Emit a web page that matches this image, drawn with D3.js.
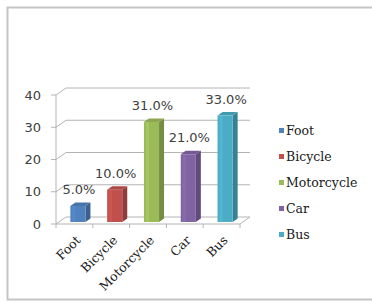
<!DOCTYPE html>
<html lang="en">
  <head>
    <meta charset="UTF-8">
    <title>Mode of transport</title>
    <style>
      html,body{
        background-color: #fff;
        margin: 0;
        padding: 0;
      }
      svg{ display: block; }
    </style>
  </head>
  <body>
    <div id="chart"></div>
    <script src="https://cdn.jsdelivr.net/npm/d3@7"></script>
    <script>
      // datos
      var categories = ["Foot", "Bicycle", "Motorcycle", "Car", "Bus"];
      var values = [5, 10, 31, 21, 33];
      var valueLabels = ["5.0%", "10.0%", "31.0%", "21.0%", "33.0%"];
      var yTicks = [0, 10, 20, 30, 40];
      var colors = ["#4F81BD", "#C0504D", "#9BBB59", "#8064A2", "#4BACC6"];

      var W = 372, H = 305;
      var svg = d3.select("#chart").append("svg")
        .attr("width", W).attr("height", H);

      // marco exterior
      svg.append("rect")
        .attr("x", 7.5).attr("y", 7.5)
        .attr("width", 380).attr("height", 292)
        .attr("fill", "#fff").attr("stroke", "#c4c4c4").attr("stroke-width", 2);

      // profundidad 3D
      var dx = 10, dy = -7;
      var x = d3.scaleBand().domain(categories).range([56, 240]);
      var y = d3.scaleLinear().domain([0, 40]).range([224, 95]);

      var grid = svg.append("g")
        .attr("stroke", "#b4b4b4").attr("stroke-width", 1).attr("fill", "none");

      // lineas de la pared y del suelo
      yTicks.forEach(function(t){
        var yy = y(t);
        grid.append("path")
          .attr("d", "M" + x.range()[0] + "," + yy + "L" + (x.range()[0] + dx) + "," + (yy + dy) +
            "L" + (x.range()[1] + dx) + "," + (yy + dy));
        grid.append("line")
          .attr("x1", x.range()[0] - 5).attr("x2", x.range()[0])
          .attr("y1", yy).attr("y2", yy);
      });
      grid.append("line")
        .attr("x1", x.range()[0]).attr("x2", x.range()[0])
        .attr("y1", y(0)).attr("y2", y(40));
      grid.append("path")
        .attr("d", "M" + x.range()[0] + "," + y(0) + "L" + x.range()[1] + "," + y(0) +
          "L" + (x.range()[1] + dx) + "," + (y(0) + dy));
      // marcas del eje x
      categories.concat([null]).forEach(function(c, i){
        var xx = i < categories.length ? x(c) : x.range()[1];
        grid.append("line")
          .attr("x1", xx).attr("x2", xx)
          .attr("y1", y(0)).attr("y2", y(0) + 4);
      });

      // etiquetas eje y
      svg.append("g").selectAll("text").data(yTicks).join("text")
        .attr("x", 41).attr("y", function(d){ return y(d); })
        .attr("dy", "0.36em")
        .attr("text-anchor", "end")
        .attr("font-family", "DejaVu Sans").attr("font-size", 13)
        .attr("fill", "#404040")
        .text(function(d){ return d; });

      // barras 3D
      var bw = x.bandwidth() * 0.41;
      var fx = 3.5, fy = -2;     // desplazamiento de la cara frontal
      var sx = 5, sy = -3.5;      // profundidad de la barra
      var bars = svg.append("g");
      categories.forEach(function(c, i){
        var x0 = x(c) + (x.bandwidth() - bw) / 2 + fx;
        var x1 = x0 + bw;
        var yb = y(0) + fy;
        var yt = y(values[i]) + fy;
        var col = d3.color(colors[i]);
        var g = bars.append("g");
        g.append("path")
          .attr("d", "M" + x1 + "," + yb + "L" + (x1 + sx) + "," + (yb + sy) +
            "L" + (x1 + sx) + "," + (yt + sy) + "L" + x1 + "," + yt + "Z")
          .attr("fill", col.darker(0.8));
        g.append("path")
          .attr("d", "M" + x0 + "," + yt + "L" + (x0 + sx) + "," + (yt + sy) +
            "L" + (x1 + sx) + "," + (yt + sy) + "L" + x1 + "," + yt + "Z")
          .attr("fill", col.darker(0.3));
        g.append("rect")
          .attr("x", x0).attr("y", yt)
          .attr("width", bw).attr("height", yb - yt)
          .attr("fill", colors[i]);
        g.append("rect")
          .attr("x", x0 + 2).attr("y", yt)
          .attr("width", 3).attr("height", yb - yt)
          .attr("fill", col.brighter(0.35)).attr("opacity", 0.5);

        svg.append("text")
          .attr("x", (x0 + x1) / 2 + 1)
          .attr("y", yt - 12)
          .attr("text-anchor", "middle")
          .attr("font-family", "DejaVu Sans").attr("font-size", 13)
          .attr("fill", "#404040")
          .text(valueLabels[i]);
      });

      // etiquetas eje x
      svg.append("g").selectAll("text").data(categories).join("text")
        .attr("transform", function(d){
          return "translate(" + (x(d) + x.bandwidth() / 2 + 7) + "," + (y(0) + 17) + ") rotate(-45)";
        })
        .attr("text-anchor", "end")
        .attr("font-family", "DejaVu Serif").attr("font-size", 12.5)
        .attr("fill", "#202020")
        .text(function(d){ return d; });

      // leyenda
      var legend = svg.append("g");
      categories.forEach(function(c, i){
        var ly = 131 + i * 26;
        legend.append("rect")
          .attr("x", 279).attr("y", ly - 3)
          .attr("width", 5).attr("height", 5)
          .attr("fill", colors[i]);
        legend.append("text")
          .attr("x", 286).attr("y", ly)
          .attr("dy", "0.35em")
          .attr("font-family", "DejaVu Serif").attr("font-size", 12.5)
          .attr("fill", "#202020")
          .text(c);
      });
    </script>
  </body>
</html>
